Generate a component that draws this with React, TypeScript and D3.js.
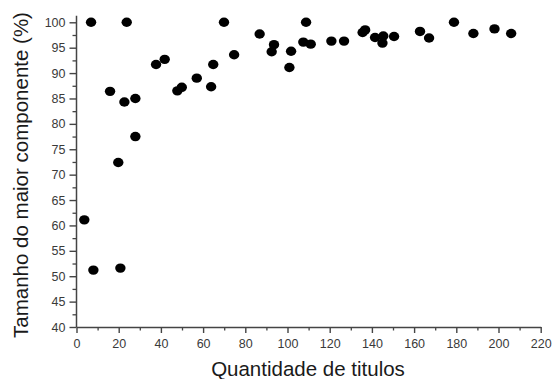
import React, { useEffect, useRef } from 'react';
import * as d3 from 'd3';

// quantidade de titulos
const titulos = [
  3.7, 6.9, 8.0, 15.9, 19.8, 20.8, 22.7, 23.8, 27.9, 27.9,
  37.7, 41.8, 47.8, 49.9, 57.0, 63.8, 64.8, 69.9, 74.7, 86.8,
  92.5, 93.6, 100.9, 101.7, 107.5, 108.8, 111.0, 120.8, 126.8, 135.6,
  136.8, 141.5, 145.0, 145.4, 150.5, 162.8, 167.1, 178.9, 188.1, 198.1, 206.0
];
// tamanho do maior componente (%)
const tamanho = [
  61.1, 100, 51.2, 86.4, 72.4, 51.6, 84.3, 100, 85.0, 77.5,
  91.7, 92.7, 86.5, 87.2, 89.0, 87.3, 91.7, 100, 93.6, 97.7,
  94.2, 95.6, 91.1, 94.3, 96.1, 100, 95.7, 96.3, 96.3, 98.0,
  98.5, 97.0, 95.9, 97.3, 97.2, 98.2, 96.9, 100, 97.8, 98.7, 97.8
];

const xTicks = [0, 20, 40, 60, 80, 100, 120, 140, 160, 180, 200, 220];
const xMinor = [10, 30, 50, 70, 90, 110, 130, 150, 170, 190, 210];
const yTicks = [40, 45, 50, 55, 60, 65, 70, 75, 80, 85, 90, 95, 100];
const yMinor = [42.5, 47.5, 52.5, 57.5, 62.5, 67.5, 72.5, 77.5, 82.5, 87.5, 92.5, 97.5];

const App = () => {
  const svgRef = useRef(null);

  useEffect(() => {
    const svg = d3.select(svgRef.current);
    svg.selectAll('*').remove();

    const x = d3.scaleLinear().domain([0, 220]).range([76.5, 540.7]);
    const y = d3.scaleLinear().domain([40, 100]).range([327, 22.3]);
    const axisColor = '#444';

    // minor ticks
    const yMinorAxis = svg.append('g')
      .attr('transform', `translate(${x(0)},0)`)
      .call(d3.axisLeft(y).tickValues(yMinor).tickSize(4).tickFormat(() => ''));
    const xMinorAxis = svg.append('g')
      .attr('transform', `translate(0,${y(40)})`)
      .call(d3.axisBottom(x).tickValues(xMinor).tickSize(3.5).tickFormat(() => ''));
    [yMinorAxis, xMinorAxis].forEach(g => {
      g.select('.domain').remove();
      g.selectAll('line').attr('stroke', axisColor).attr('stroke-width', 1.3);
    });

    const yAxis = svg.append('g')
      .attr('transform', `translate(${x(0)},0)`)
      .call(d3.axisLeft(y).tickValues(yTicks).tickSize(7).tickPadding(4).tickSizeOuter(0));
    const xAxis = svg.append('g')
      .attr('transform', `translate(0,${y(40)})`)
      .call(d3.axisBottom(x).tickValues(xTicks).tickSize(6).tickPadding(6).tickSizeOuter(0));

    yAxis.select('.domain').attr('d', `M0,${y(101.3)}V${y(40)}`);
    [yAxis, xAxis].forEach(g => {
      g.select('.domain').attr('stroke', axisColor).attr('stroke-width', 1.5);
      g.selectAll('line').attr('stroke', axisColor).attr('stroke-width', 1.4);
      g.selectAll('text')
        .attr('fill', '#3a3a3a')
        .style('font-family', 'Arial, "Liberation Sans", sans-serif')
        .style('font-size', '12.5px');
    });

    svg.append('g')
      .selectAll('ellipse')
      .data(titulos.map((t, i) => [t, tamanho[i]]))
      .join('ellipse')
      .attr('cx', d => x(d[0]))
      .attr('cy', d => y(d[1]))
      .attr('rx', 5.2)
      .attr('ry', 4.7)
      .attr('fill', '#000');

    svg.append('text')
      .attr('x', 308)
      .attr('y', 376)
      .attr('text-anchor', 'middle')
      .attr('fill', '#1a1a1a')
      .style('font-family', 'Arial, "Liberation Sans", sans-serif')
      .style('font-size', '20.5px')
      .text('Quantidade de titulos');

    svg.append('text')
      .attr('transform', 'translate(28,175) rotate(-90)')
      .attr('text-anchor', 'middle')
      .attr('fill', '#1a1a1a')
      .style('font-family', 'Arial, "Liberation Sans", sans-serif')
      .style('font-size', '20.5px')
      .text('Tamanho do maior componente (%)');
  }, []);

  return (
    <svg
      ref={svgRef}
      width={553}
      height={379}
      style={{ position: 'absolute', left: 0, top: 0, background: '#fff' }}
    ></svg>
  );
};

export default App;
